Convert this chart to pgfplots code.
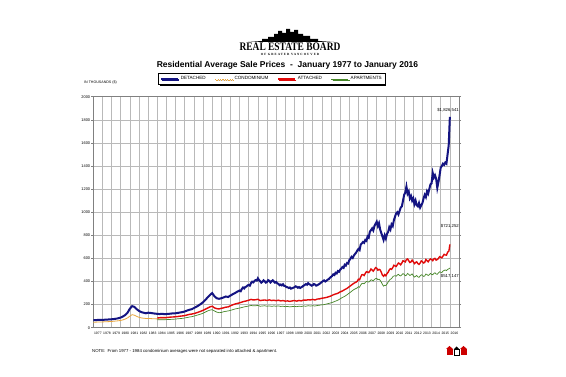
\documentclass[border=0pt]{standalone}
\usepackage{pgfplots}
\pgfplotsset{compat=1.18}
\usepackage{fontspec}
\setmainfont{Liberation Sans}
\newfontfamily\logofont{Liberation Serif}
\newfontfamily\logosmall[LetterSpace=30]{Liberation Serif}
\usetikzlibrary{shadows}
\definecolor{detc}{RGB}{20,20,130}
\definecolor{condc}{RGB}{232,165,60}
\definecolor{attc}{RGB}{225,10,10}
\definecolor{aptc}{RGB}{70,135,40}
\definecolor{gridc}{RGB}{185,185,185}
\begin{document}
\begin{tikzpicture}[x=1pt,y=1pt]
\path[use as bounding box,fill=white] (0,0) rectangle (566,-377);
% logo
\fill[black] (248,-42) -- (262,-41) -- (262,-39) -- (268,-39) -- (268,-37) -- (274,-37) -- (274,-34) -- (278,-34) -- (278,-31) -- (282,-31) -- (282,-33) -- (286,-33) -- (286,-29) -- (290,-29) -- (290,-32) -- (294,-32) -- (294,-30) -- (298,-30) -- (298,-34) -- (303,-34) -- (303,-36) -- (310,-36) -- (310,-39) -- (318,-39) -- (318,-41) -- (334,-42) -- cycle;
\node[font=\logofont\bfseries\fontsize{11.5}{11.5}\selectfont, xscale=0.82, inner sep=0] at (290,-47) {REAL ESTATE BOARD};
\node[font=\logosmall\bfseries\fontsize{3.2}{3.2}\selectfont, inner sep=0] at (290,-54) {OF GREATER VANCOUVER};
\node[font=\bfseries\fontsize{8.5}{9}\selectfont, inner sep=0] at (287.5,-65) {Residential Average Sale Prices\ \ -\ \ January 1977 to January 2016};
\node[font=\fontsize{3.6}{4}\selectfont, anchor=west, inner sep=0] at (84,-83) {IN THOUSANDS (\$)};
\begin{axis}[
  at={(93.3pt,-327.7pt)}, anchor=south west,
  scale only axis, width=365.7pt, height=231pt,
  xmin=1977, xmax=2017, ymin=0, ymax=2000,
  xtick={1977.5,1978.5,...,2016.5},
  xticklabel={\pgfmathparse{int(floor(\tick+0.01))}\pgfmathresult},
  minor xtick={1977,1978,...,2017},
  xminorgrids=true, xmajorgrids=false,
  ytick={0,200,...,2000}, ymajorgrids=true,
  grid style={gridc, line width=0.5pt},
  minor grid style={gridc, line width=0.5pt},
  axis line style={gray, line width=0.5pt},
  x tick label style={font=\fontsize{3.4}{4}\selectfont, inner sep=1pt, yshift=-1pt},
  y tick label style={font=\fontsize{3.9}{4}\selectfont, inner sep=1pt},
  /pgf/number format/assume math mode=true,
  /pgf/number format/1000 sep={},
  xtick style={draw=none}, minor tick length=0pt,
  ytick style={gray, line width=0.4pt}, tick align=outside, major tick length=2pt,
  legend columns=4,
  legend style={at={(0.488,1.0766)}, anchor=center, draw=black, line width=0.5pt,
    font=\fontsize{4.6}{5}\selectfont, inner sep=1.2pt, fill=white,
    drop shadow={shadow xshift=1.2pt, shadow yshift=-1.2pt, fill=black, opacity=1},
    /tikz/every even column/.append style={column sep=7pt}},
  legend image code/.code={\draw[#1] (0pt,0pt) -- (17pt,0pt);},
  legend cell align=left,
  clip=false,
]
\addplot[condc, line width=0.8pt, forget plot] table {
1977.00 48
1977.25 48
1977.50 49
1977.75 50
1978.00 50
1978.25 51
1978.50 52
1978.75 53
1979.00 54
1979.25 56
1979.50 58
1979.75 60
1980.00 63
1980.25 68
1980.50 75
1980.75 85
1981.00 100
1981.25 113
1981.50 108
1981.75 98
1982.00 90
1982.25 85
1982.50 82
1982.75 80
1983.00 80
1983.25 79
1983.50 78
1983.75 77
1984.00 76
1984.25 75
1984.50 76
1984.75 75
1985.00 75
};
\addplot[detc, line width=2pt] table {
1977.00 65
1977.25 66
1977.50 67
1977.75 67
1978.00 68
1978.25 69
1978.50 70
1978.75 72
1979.00 73
1979.25 75
1979.50 78
1979.75 82
1980.00 88
1980.25 98
1980.50 110
1980.75 130
1981.00 165
1981.25 187
1981.50 180
1981.75 160
1982.00 145
1982.25 135
1982.50 130
1982.75 125
1983.00 130
1983.25 128
1983.50 125
1983.75 122
1984.00 120
1984.25 118
1984.50 120
1984.75 118
1985.00 118
1985.25 120
1985.50 122
1985.75 125
1986.00 125
1986.25 128
1986.50 132
1986.75 135
1987.00 140
1987.25 148
1987.50 155
1987.75 160
1988.00 170
1988.25 180
1988.50 192
1988.75 205
1989.00 220
1989.25 240
1989.50 262
1989.75 282
1990.00 300
1990.25 272
1990.50 255
1990.75 250
1991.00 255
1991.25 262
1991.50 270
1991.75 266
1992.00 278
1992.25 290
1992.50 300
1992.75 312
1993.000 322
1993.125 316
1993.250 336
1993.375 348
1993.500 340
1993.625 352
1993.750 356
1993.875 366
1994.000 370
1994.125 364
1994.250 386
1994.375 398
1994.500 392
1994.625 404
1994.750 412
1994.875 408
1995.000 428
1995.125 412
1995.250 402
1995.375 390
1995.500 398
1995.625 410
1995.750 402
1995.875 390
1996.000 396
1996.125 412
1996.250 406
1996.375 392
1996.500 402
1996.625 410
1996.750 400
1996.875 390
1997.000 396
1997.125 384
1997.250 380
1997.375 368
1997.500 374
1997.625 366
1997.750 376
1997.875 362
1998.000 360
1998.125 352
1998.250 350
1998.375 344
1998.500 348
1998.625 338
1998.750 342
1998.875 346
1999.000 350
1999.125 358
1999.250 354
1999.375 346
1999.500 352
1999.625 344
1999.750 350
1999.875 356
2000.000 364
2000.125 370
2000.250 378
2000.375 372
2000.500 386
2000.625 376
2000.750 372
2000.875 364
2001.000 368
2001.125 378
2001.250 374
2001.375 364
2001.500 368
2001.625 374
2001.750 380
2001.875 388
2002.000 396
2002.125 404
2002.250 410
2002.375 400
2002.500 406
2002.625 416
2002.750 420
2002.875 432
2003.000 440
2003.125 448
2003.250 462
2003.375 456
2003.500 476
2003.625 470
2003.750 490
2003.875 484
2004.000 502
2004.125 512
2004.250 525
2004.375 518
2004.500 545
2004.625 538
2004.750 560
2004.875 556
2005.000 585
2005.125 596
2005.250 614
2005.375 604
2005.500 625
2005.625 638
2005.750 650
2005.875 668
2006.000 682
2006.125 672
2006.250 720
2006.375 730
2006.500 742
2006.625 735
2006.750 760
2006.875 752
2007.000 790
2007.125 780
2007.250 832
2007.375 845
2007.500 860
2007.625 842
2007.750 880
2007.875 900
2008.000 918
2008.125 880
2008.250 905
2008.375 850
2008.500 820
2008.625 790
2008.750 760
2008.875 800
2009.000 772
2009.125 812
2009.250 830
2009.375 870
2009.500 850
2009.625 895
2009.750 880
2009.875 930
2010.000 960
2010.125 990
2010.250 1000
2010.375 980
2010.500 1010
2010.625 1040
2010.750 1050
2010.875 1100
2011.000 1150
2011.125 1170
2011.250 1222
2011.375 1160
2011.500 1180
2011.625 1120
2011.750 1140
2011.875 1100
2012.000 1120
2012.125 1070
2012.250 1100
2012.375 1060
2012.500 1050
2012.625 1080
2012.750 1040
2012.875 1060
2013.000 1080
2013.125 1120
2013.250 1150
2013.375 1130
2013.500 1180
2013.625 1160
2013.750 1200
2013.875 1240
2014.000 1250
2014.125 1340
2014.250 1300
2014.375 1320
2014.500 1290
2014.625 1210
2014.750 1260
2014.875 1320
2015.000 1385
2015.125 1400
2015.250 1420
2015.375 1410
2015.500 1430
2015.625 1420
2015.750 1500
2015.875 1580
2016.000 1826
};
\addlegendentry{DETACHED}
\addlegendimage{condc, line width=0.8pt, dash pattern=on 1.2pt off 1.2pt}
\addlegendentry{CONDOMINIUM}
\addplot[attc, line width=1.4pt] table {
1984.00 85
1984.25 86
1984.50 88
1984.75 87
1985.00 88
1985.25 90
1985.50 92
1985.75 93
1986.00 95
1986.25 97
1986.50 100
1986.75 102
1987.00 105
1987.25 110
1987.50 115
1987.75 118
1988.00 122
1988.25 128
1988.50 135
1988.75 142
1989.00 150
1989.25 160
1989.50 170
1989.75 180
1990.00 186
1990.25 172
1990.50 165
1990.75 162
1991.00 168
1991.25 172
1991.50 178
1991.75 180
1992.00 190
1992.25 198
1992.50 205
1992.75 210
1993.00 215
1993.25 222
1993.50 228
1993.75 232
1994.00 238
1994.25 245
1994.50 240
1994.75 242
1995.00 246
1995.25 235
1995.50 238
1995.75 240
1996.00 236
1996.25 241
1996.50 235
1996.75 238
1997.00 234
1997.25 238
1997.50 232
1997.75 235
1998.00 230
1998.25 232
1998.50 228
1998.75 232
1999.00 235
1999.25 230
1999.50 236
1999.75 232
2000.00 240
2000.25 238
2000.50 242
2000.75 240
2001.00 245
2001.25 240
2001.50 248
2001.75 250
2002.00 255
2002.25 258
2002.50 262
2002.75 268
2003.00 275
2003.25 285
2003.50 292
2003.75 298
2004.00 310
2004.25 318
2004.50 330
2004.75 340
2005.00 355
2005.25 370
2005.50 385
2005.75 395
2005.875 402
2006.000 420
2006.125 415
2006.250 440
2006.375 458
2006.500 460
2006.625 452
2006.750 470
2006.875 485
2007.000 482
2007.125 478
2007.250 490
2007.375 508
2007.500 500
2007.625 490
2007.750 505
2007.875 520
2008.000 515
2008.125 498
2008.250 505
2008.375 500
2008.500 480
2008.625 455
2008.750 445
2008.875 460
2009.000 450
2009.125 468
2009.250 480
2009.375 500
2009.500 510
2009.625 505
2009.750 520
2009.875 540
2010.000 535
2010.125 530
2010.250 545
2010.375 560
2010.500 555
2010.625 545
2010.750 560
2010.875 580
2011.000 575
2011.125 570
2011.250 590
2011.375 595
2011.500 580
2011.625 565
2011.750 570
2011.875 585
2012.000 572
2012.125 555
2012.250 565
2012.375 570
2012.500 555
2012.625 548
2012.750 560
2012.875 578
2013.000 572
2013.125 560
2013.250 565
2013.375 590
2013.500 580
2013.625 570
2013.750 585
2013.875 595
2014.000 590
2014.125 580
2014.250 596
2014.375 600
2014.500 585
2014.625 590
2014.750 600
2014.875 615
2015.000 610
2015.125 605
2015.250 620
2015.375 635
2015.500 630
2015.625 628
2015.750 652
2015.900 665
2016.000 721
};
\addlegendentry{ATTACHED}
\addplot[aptc, line width=0.7pt] table {
1984.00 68
1984.25 68
1984.50 69
1984.75 69
1985.00 70
1985.25 71
1985.50 72
1985.75 73
1986.00 75
1986.25 77
1986.50 79
1986.75 81
1987.00 84
1987.25 88
1987.50 92
1987.75 95
1988.00 100
1988.25 106
1988.50 112
1988.75 118
1989.00 125
1989.25 135
1989.50 145
1989.75 152
1990.00 156
1990.25 145
1990.50 135
1990.75 130
1991.00 132
1991.25 138
1991.50 142
1991.75 145
1992.00 150
1992.25 156
1992.50 162
1992.75 166
1993.00 170
1993.25 175
1993.50 180
1993.75 184
1994.00 188
1994.25 192
1994.50 190
1994.75 190
1995.00 193
1995.25 186
1995.50 188
1995.75 190
1996.00 186
1996.25 189
1996.50 185
1996.75 188
1997.00 186
1997.25 189
1997.50 184
1997.75 186
1998.00 182
1998.25 184
1998.50 180
1998.75 183
1999.00 185
1999.25 182
1999.50 186
1999.75 184
2000.00 188
2000.25 186
2000.50 190
2000.75 188
2001.00 190
2001.25 188
2001.50 192
2001.75 195
2002.00 198
2002.25 200
2002.50 205
2002.75 210
2003.00 215
2003.25 222
2003.50 230
2003.75 238
2004.00 250
2004.25 262
2004.50 272
2004.75 285
2005.00 300
2005.25 315
2005.50 330
2005.75 340
2005.875 345
2006.000 355
2006.125 350
2006.250 370
2006.375 382
2006.500 385
2006.625 380
2006.750 392
2006.875 400
2007.000 398
2007.125 395
2007.250 405
2007.375 415
2007.500 412
2007.625 405
2007.750 418
2007.875 425
2008.000 428
2008.125 415
2008.250 420
2008.375 410
2008.500 395
2008.625 375
2008.750 360
2008.875 368
2009.000 365
2009.125 378
2009.250 395
2009.375 410
2009.500 420
2009.625 425
2009.750 440
2009.875 448
2010.000 450
2010.125 445
2010.250 456
2010.375 462
2010.500 452
2010.625 448
2010.750 458
2010.875 468
2011.000 462
2011.125 450
2011.250 455
2011.375 470
2011.500 462
2011.625 452
2011.750 458
2011.875 466
2012.000 450
2012.125 438
2012.250 445
2012.375 452
2012.500 440
2012.625 436
2012.750 448
2012.875 458
2013.000 455
2013.125 444
2013.250 448
2013.375 465
2013.500 460
2013.625 452
2013.750 458
2013.875 470
2014.000 462
2014.125 458
2014.250 470
2014.375 476
2014.500 465
2014.625 462
2014.750 475
2014.875 484
2015.000 480
2015.125 478
2015.250 490
2015.375 496
2015.500 500
2015.625 494
2015.750 505
2015.900 510
2016.000 517
};
\addlegendentry{APARTMENTS}
\end{axis}
\node[font=\fontsize{4.3}{5}\selectfont, anchor=east, inner sep=0] at (459,-110) {\$1,826,541};
\node[font=\fontsize{4.3}{5}\selectfont, anchor=east, inner sep=0] at (459,-226) {\$721,252};
\node[font=\fontsize{4.3}{5}\selectfont, anchor=east, inner sep=0] at (459,-276) {\$517,147};
\node[font=\fontsize{4.3}{5}\selectfont, anchor=west, inner sep=0] at (92,-351) {NOTE:\ \ From 1977 - 1984 condominium averages were not separated into attached \& apartment.};
% small icons
\fill[red!80!black] (446.5,-349) rectangle (452.5,-355);
\draw[black, line width=0.5pt] (453.8,-349.5) rectangle (459.2,-355);
\fill[black] (453.5,-349.5) -- (456.5,-346.5) -- (459.5,-349.5) -- cycle;
\fill[red!80!black] (460.5,-349) rectangle (466.5,-355);
\fill[red!80!black] (446,-349) -- (449.5,-346) -- (453,-349) -- cycle;
\fill[red!80!black] (460,-349) -- (463.5,-346) -- (467,-349) -- cycle;
\end{tikzpicture}
\end{document}
